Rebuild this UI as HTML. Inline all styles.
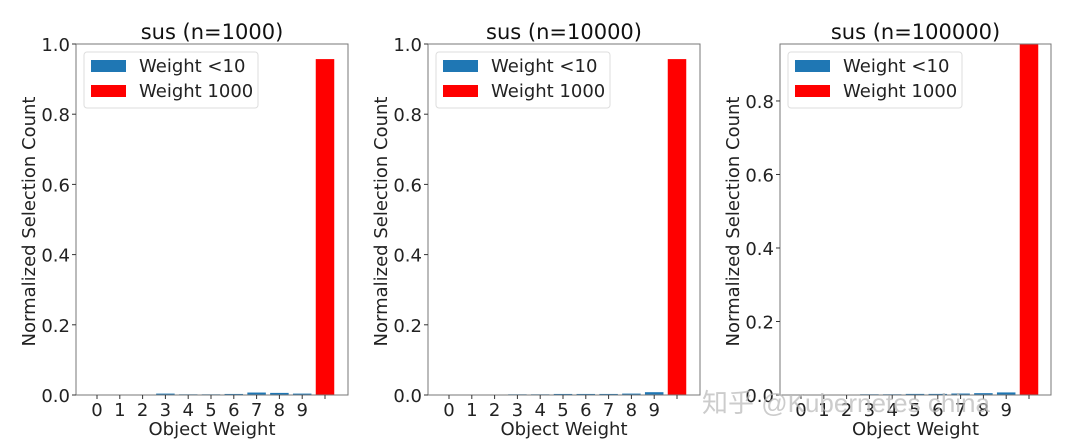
<!DOCTYPE html>
<html><head><meta charset="utf-8"><style>
html,body{margin:0;padding:0;background:#fff;}
svg{display:block;font-family:"DejaVu Sans","Liberation Sans",sans-serif;}
</style></head><body>
<svg id="fig" width="1080" height="447" viewBox="0 0 1080 447"></svg>
<script>
const categories = ["0","1","2","3","4","5","6","7","8","9"];
const titles = ["sus (n=1000)","sus (n=10000)","sus (n=100000)"];
const lowWeight1 = [0,0,0,0.004,0.002,0.002,0.003,0.007,0.006,0.004];
const lowWeight2 = [0.0005,0.0008,0.001,0.002,0.002,0.003,0.003,0.003,0.004,0.008];
const lowWeight3 = [0.0003,0.0005,0.001,0.002,0.002,0.003,0.003,0.004,0.005,0.007];
const highWeight = [0.957,0.957,0.955];
const yTicks1 = [0,0.2,0.4,0.6,0.8,1.0];
const yTicks3 = [0,0.2,0.4,0.6,0.8];
const yMax = [1.0,1.0,0.955];

const NS="http://www.w3.org/2000/svg";
const svg=document.getElementById('fig');
function mk(tag,attrs,parent){const e=document.createElementNS(NS,tag);for(const k in attrs)e.setAttribute(k,attrs[k]);(parent||svg).appendChild(e);return e;}

const panels=[
 {left:76,right:348,x0:97,low:lowWeight1,ticks:yTicks1},
 {left:428,right:700,x0:449,low:lowWeight2,ticks:yTicks1},
 {left:780,right:1051,x0:801,low:lowWeight3,ticks:yTicks3}
];
const plotTop=44,plotBottom=395,step=22.8,bw=18.5;

panels.forEach((p,pi)=>{
  const g=mk('g',{});
  
  
  const y=v=>plotBottom-(v/yMax[pi])*(plotBottom-plotTop);
  const x=i=>p.x0+i*step;
  p.low.forEach((v,i)=>{
    const r=mk('rect',{x:x(i)-bw/2,y:y(v),width:bw,height:Math.max(plotBottom-y(v),0),fill:'#1f77b4'},g);
    
    
  });
  const hy=Math.max(y(highWeight[pi]),plotTop);
  const rb=mk('rect',{x:x(10)-bw/2,y:hy,width:bw,height:plotBottom-hy,fill:'#ff0000'},g);
  
  
  const fr=mk('rect',{x:p.left,y:plotTop,width:p.right-p.left,height:plotBottom-plotTop,fill:'none',stroke:'#777','stroke-width':1},g);
  
  
  p.ticks.forEach(t=>{
    const yy=y(t);
    mk('line',{x1:p.left-4,x2:p.left,y1:yy,y2:yy,stroke:'#333'},g);
    const tx=mk('text',{x:p.left-6,y:yy+7,'text-anchor':'end','font-size':18,fill:'#222'},g);
    tx.textContent=t.toFixed(1);
    
    
  });
  categories.forEach((c,i)=>{
    mk('line',{x1:x(i),x2:x(i),y1:plotBottom,y2:plotBottom+4,stroke:'#333'},g);
    const tx=mk('text',{x:x(i),y:plotBottom+21,'text-anchor':'middle','font-size':18,fill:'#222'},g);
    tx.textContent=c;
    
    
  });
  mk('line',{x1:x(10),x2:x(10),y1:plotBottom,y2:plotBottom+4,stroke:'#333'},g);
  const mid=(p.left+p.right)/2;
  const tt=mk('text',{x:mid,y:39,'text-anchor':'middle','font-size':21,fill:'#111'},g);
  tt.textContent=titles[pi];
  
  
  const xl=mk('text',{x:mid,y:435,'text-anchor':'middle','font-size':18,fill:'#222'},g);
  xl.textContent='Object Weight';
  
  
  const yl=mk('text',{x:0,y:0,'text-anchor':'middle','font-size':18,fill:'#222',transform:`translate(${p.left-41},${(plotTop+plotBottom)/2+2}) rotate(-90)`},g);
  yl.textContent='Normalized Selection Count';
  
  
  const lg=mk('g',{},g);
  
  
  const lx=p.left+8;
  mk('rect',{x:lx,y:52,width:174,height:56,rx:3,fill:'#fff',stroke:'#ddd'},lg);
  mk('rect',{x:lx+7,y:60,width:35,height:12,fill:'#1f77b4'},lg);
  mk('rect',{x:lx+7,y:85,width:35,height:12,fill:'#ff0000'},lg);
  const l1=mk('text',{x:lx+55,y:72,'font-size':18,fill:'#222'},lg);
  l1.textContent='Weight <10';
  
  
  const l2=mk('text',{x:lx+55,y:97,'font-size':18,fill:'#222'},lg);
  l2.textContent='Weight 1000';
  
  
});
const wm=mk('text',{x:702,y:412,'font-size':26,fill:'#bbb','fill-opacity':0.75,'font-family':'"Liberation Sans","Noto Sans CJK SC",sans-serif'});
wm.textContent='知乎 @Kubernetes china';


</script>
</body></html>
